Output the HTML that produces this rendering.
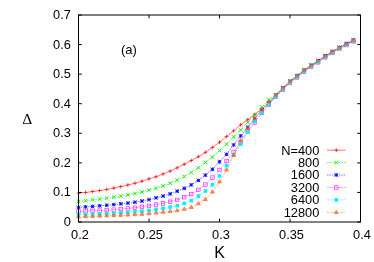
<!DOCTYPE html>
<html><head><meta charset="utf-8"><title>chart</title>
<style>
html,body{margin:0;padding:0;background:#fff;}
body{width:374px;height:262px;position:relative;overflow:hidden;font-family:"Liberation Sans",sans-serif;color:#000;}
svg{display:block;position:absolute;left:0;top:0;will-change:transform;}
</style></head><body>
<svg width="374" height="262" viewBox="0 0 374 262">
<rect x="0" y="0" width="374" height="262" fill="#fff"/>
<polyline points="78.50,193.10 85.55,192.45 92.60,191.56 99.65,190.59 106.70,189.41 113.75,188.14 120.80,186.63 127.85,185.01 134.90,183.29 141.95,181.23 149.00,178.86 156.05,176.71 163.10,174.02 170.15,171.10 177.20,167.85 184.25,164.24 191.30,160.52 198.35,156.74 205.40,152.34 212.45,147.47 219.50,142.21 226.55,136.48 233.60,130.87 240.65,124.87 247.70,119.67 254.75,114.39 261.80,109.22 268.85,102.43 275.90,95.93 282.95,88.80 290.00,82.20 297.05,76.60 304.10,70.98 311.15,66.09 318.20,61.59 325.25,56.55 332.30,52.26 339.35,48.14 346.40,44.34 353.45,40.64" fill="none" stroke="#ff0000" stroke-width="0.55"/>
<path d="M76.60 193.10H80.40M78.50 191.20V195.00" stroke="#ff0000" stroke-width="0.7" fill="none"/>
<path d="M83.65 192.45H87.45M85.55 190.55V194.35" stroke="#ff0000" stroke-width="0.7" fill="none"/>
<path d="M90.70 191.56H94.50M92.60 189.66V193.46" stroke="#ff0000" stroke-width="0.7" fill="none"/>
<path d="M97.75 190.59H101.55M99.65 188.69V192.49" stroke="#ff0000" stroke-width="0.7" fill="none"/>
<path d="M104.80 189.41H108.60M106.70 187.51V191.31" stroke="#ff0000" stroke-width="0.7" fill="none"/>
<path d="M111.85 188.14H115.65M113.75 186.24V190.04" stroke="#ff0000" stroke-width="0.7" fill="none"/>
<path d="M118.90 186.63H122.70M120.80 184.73V188.53" stroke="#ff0000" stroke-width="0.7" fill="none"/>
<path d="M125.95 185.01H129.75M127.85 183.11V186.91" stroke="#ff0000" stroke-width="0.7" fill="none"/>
<path d="M133.00 183.29H136.80M134.90 181.39V185.19" stroke="#ff0000" stroke-width="0.7" fill="none"/>
<path d="M140.05 181.23H143.85M141.95 179.33V183.13" stroke="#ff0000" stroke-width="0.7" fill="none"/>
<path d="M147.10 178.86H150.90M149.00 176.96V180.76" stroke="#ff0000" stroke-width="0.7" fill="none"/>
<path d="M154.15 176.71H157.95M156.05 174.81V178.61" stroke="#ff0000" stroke-width="0.7" fill="none"/>
<path d="M161.20 174.02H165.00M163.10 172.12V175.92" stroke="#ff0000" stroke-width="0.7" fill="none"/>
<path d="M168.25 171.10H172.05M170.15 169.20V173.00" stroke="#ff0000" stroke-width="0.7" fill="none"/>
<path d="M175.30 167.85H179.10M177.20 165.95V169.75" stroke="#ff0000" stroke-width="0.7" fill="none"/>
<path d="M182.35 164.24H186.15M184.25 162.34V166.14" stroke="#ff0000" stroke-width="0.7" fill="none"/>
<path d="M189.40 160.52H193.20M191.30 158.62V162.42" stroke="#ff0000" stroke-width="0.7" fill="none"/>
<path d="M196.45 156.74H200.25M198.35 154.84V158.64" stroke="#ff0000" stroke-width="0.7" fill="none"/>
<path d="M203.50 152.34H207.30M205.40 150.44V154.24" stroke="#ff0000" stroke-width="0.7" fill="none"/>
<path d="M210.55 147.47H214.35M212.45 145.57V149.37" stroke="#ff0000" stroke-width="0.7" fill="none"/>
<path d="M217.60 142.21H221.40M219.50 140.31V144.11" stroke="#ff0000" stroke-width="0.7" fill="none"/>
<path d="M224.65 136.48H228.45M226.55 134.58V138.38" stroke="#ff0000" stroke-width="0.7" fill="none"/>
<path d="M231.70 130.87H235.50M233.60 128.97V132.77" stroke="#ff0000" stroke-width="0.7" fill="none"/>
<path d="M238.75 124.87H242.55M240.65 122.97V126.77" stroke="#ff0000" stroke-width="0.7" fill="none"/>
<path d="M245.80 119.67H249.60M247.70 117.77V121.57" stroke="#ff0000" stroke-width="0.7" fill="none"/>
<path d="M252.85 114.39H256.65M254.75 112.49V116.29" stroke="#ff0000" stroke-width="0.7" fill="none"/>
<path d="M259.90 109.22H263.70M261.80 107.32V111.12" stroke="#ff0000" stroke-width="0.7" fill="none"/>
<path d="M266.95 102.43H270.75M268.85 100.53V104.33" stroke="#ff0000" stroke-width="0.7" fill="none"/>
<path d="M274.00 95.93H277.80M275.90 94.03V97.83" stroke="#ff0000" stroke-width="0.7" fill="none"/>
<path d="M281.05 88.80H284.85M282.95 86.90V90.70" stroke="#ff0000" stroke-width="0.7" fill="none"/>
<path d="M288.10 82.20H291.90M290.00 80.30V84.10" stroke="#ff0000" stroke-width="0.7" fill="none"/>
<path d="M295.15 76.60H298.95M297.05 74.70V78.50" stroke="#ff0000" stroke-width="0.7" fill="none"/>
<path d="M302.20 70.98H306.00M304.10 69.08V72.88" stroke="#ff0000" stroke-width="0.7" fill="none"/>
<path d="M309.25 66.09H313.05M311.15 64.19V67.99" stroke="#ff0000" stroke-width="0.7" fill="none"/>
<path d="M316.30 61.59H320.10M318.20 59.69V63.49" stroke="#ff0000" stroke-width="0.7" fill="none"/>
<path d="M323.35 56.55H327.15M325.25 54.65V58.45" stroke="#ff0000" stroke-width="0.7" fill="none"/>
<path d="M330.40 52.26H334.20M332.30 50.36V54.16" stroke="#ff0000" stroke-width="0.7" fill="none"/>
<path d="M337.45 48.14H341.25M339.35 46.24V50.04" stroke="#ff0000" stroke-width="0.7" fill="none"/>
<path d="M344.50 44.34H348.30M346.40 42.44V46.24" stroke="#ff0000" stroke-width="0.7" fill="none"/>
<path d="M351.55 40.64H355.35M353.45 38.74V42.54" stroke="#ff0000" stroke-width="0.7" fill="none"/>
<polyline points="78.50,201.37 85.55,200.66 92.60,199.86 99.65,199.07 106.70,198.21 113.75,197.29 120.80,196.17 127.85,194.93 134.90,193.51 141.95,192.01 149.00,190.18 156.05,188.29 163.10,185.86 170.15,183.21 177.20,180.05 184.25,176.41 191.30,172.48 198.35,167.82 205.40,162.41 212.45,157.13 219.50,150.63 226.55,144.19 233.60,136.86 240.65,129.95 247.70,122.36 254.75,114.89 261.80,107.00 268.85,99.62 275.90,94.60 282.95,87.56 290.00,81.06 297.05,75.55 304.10,70.02 311.15,65.23 318.20,60.82 325.25,55.88 332.30,51.68 339.35,47.65 346.40,43.95 353.45,40.34" fill="none" stroke="#00f000" stroke-width="0.55" stroke-dasharray="1.9 0.9"/>
<path d="M76.70 199.57L80.30 203.17M76.70 203.17L80.30 199.57" stroke="#00f000" stroke-width="0.95" fill="none"/>
<path d="M83.75 198.86L87.35 202.46M83.75 202.46L87.35 198.86" stroke="#00f000" stroke-width="0.95" fill="none"/>
<path d="M90.80 198.06L94.40 201.66M90.80 201.66L94.40 198.06" stroke="#00f000" stroke-width="0.95" fill="none"/>
<path d="M97.85 197.27L101.45 200.87M97.85 200.87L101.45 197.27" stroke="#00f000" stroke-width="0.95" fill="none"/>
<path d="M104.90 196.41L108.50 200.01M104.90 200.01L108.50 196.41" stroke="#00f000" stroke-width="0.95" fill="none"/>
<path d="M111.95 195.49L115.55 199.09M111.95 199.09L115.55 195.49" stroke="#00f000" stroke-width="0.95" fill="none"/>
<path d="M119.00 194.37L122.60 197.97M119.00 197.97L122.60 194.37" stroke="#00f000" stroke-width="0.95" fill="none"/>
<path d="M126.05 193.13L129.65 196.73M126.05 196.73L129.65 193.13" stroke="#00f000" stroke-width="0.95" fill="none"/>
<path d="M133.10 191.71L136.70 195.31M133.10 195.31L136.70 191.71" stroke="#00f000" stroke-width="0.95" fill="none"/>
<path d="M140.15 190.21L143.75 193.81M140.15 193.81L143.75 190.21" stroke="#00f000" stroke-width="0.95" fill="none"/>
<path d="M147.20 188.38L150.80 191.98M147.20 191.98L150.80 188.38" stroke="#00f000" stroke-width="0.95" fill="none"/>
<path d="M154.25 186.49L157.85 190.09M154.25 190.09L157.85 186.49" stroke="#00f000" stroke-width="0.95" fill="none"/>
<path d="M161.30 184.06L164.90 187.66M161.30 187.66L164.90 184.06" stroke="#00f000" stroke-width="0.95" fill="none"/>
<path d="M168.35 181.41L171.95 185.01M168.35 185.01L171.95 181.41" stroke="#00f000" stroke-width="0.95" fill="none"/>
<path d="M175.40 178.25L179.00 181.85M175.40 181.85L179.00 178.25" stroke="#00f000" stroke-width="0.95" fill="none"/>
<path d="M182.45 174.61L186.05 178.21M182.45 178.21L186.05 174.61" stroke="#00f000" stroke-width="0.95" fill="none"/>
<path d="M189.50 170.68L193.10 174.28M189.50 174.28L193.10 170.68" stroke="#00f000" stroke-width="0.95" fill="none"/>
<path d="M196.55 166.02L200.15 169.62M196.55 169.62L200.15 166.02" stroke="#00f000" stroke-width="0.95" fill="none"/>
<path d="M203.60 160.61L207.20 164.21M203.60 164.21L207.20 160.61" stroke="#00f000" stroke-width="0.95" fill="none"/>
<path d="M210.65 155.33L214.25 158.93M210.65 158.93L214.25 155.33" stroke="#00f000" stroke-width="0.95" fill="none"/>
<path d="M217.70 148.83L221.30 152.43M217.70 152.43L221.30 148.83" stroke="#00f000" stroke-width="0.95" fill="none"/>
<path d="M224.75 142.39L228.35 145.99M224.75 145.99L228.35 142.39" stroke="#00f000" stroke-width="0.95" fill="none"/>
<path d="M231.80 135.06L235.40 138.66M231.80 138.66L235.40 135.06" stroke="#00f000" stroke-width="0.95" fill="none"/>
<path d="M238.85 128.15L242.45 131.75M238.85 131.75L242.45 128.15" stroke="#00f000" stroke-width="0.95" fill="none"/>
<path d="M245.90 120.56L249.50 124.16M245.90 124.16L249.50 120.56" stroke="#00f000" stroke-width="0.95" fill="none"/>
<path d="M252.95 113.09L256.55 116.69M252.95 116.69L256.55 113.09" stroke="#00f000" stroke-width="0.95" fill="none"/>
<path d="M260.00 105.20L263.60 108.80M260.00 108.80L263.60 105.20" stroke="#00f000" stroke-width="0.95" fill="none"/>
<path d="M267.05 97.82L270.65 101.42M267.05 101.42L270.65 97.82" stroke="#00f000" stroke-width="0.95" fill="none"/>
<path d="M274.10 92.80L277.70 96.40M274.10 96.40L277.70 92.80" stroke="#00f000" stroke-width="0.95" fill="none"/>
<path d="M281.15 85.76L284.75 89.36M281.15 89.36L284.75 85.76" stroke="#00f000" stroke-width="0.95" fill="none"/>
<path d="M288.20 79.26L291.80 82.86M288.20 82.86L291.80 79.26" stroke="#00f000" stroke-width="0.95" fill="none"/>
<path d="M295.25 73.75L298.85 77.35M295.25 77.35L298.85 73.75" stroke="#00f000" stroke-width="0.95" fill="none"/>
<path d="M302.30 68.22L305.90 71.82M302.30 71.82L305.90 68.22" stroke="#00f000" stroke-width="0.95" fill="none"/>
<path d="M309.35 63.43L312.95 67.03M309.35 67.03L312.95 63.43" stroke="#00f000" stroke-width="0.95" fill="none"/>
<path d="M316.40 59.02L320.00 62.62M316.40 62.62L320.00 59.02" stroke="#00f000" stroke-width="0.95" fill="none"/>
<path d="M323.45 54.08L327.05 57.68M323.45 57.68L327.05 54.08" stroke="#00f000" stroke-width="0.95" fill="none"/>
<path d="M330.50 49.88L334.10 53.48M330.50 53.48L334.10 49.88" stroke="#00f000" stroke-width="0.95" fill="none"/>
<path d="M337.55 45.85L341.15 49.45M337.55 49.45L341.15 45.85" stroke="#00f000" stroke-width="0.95" fill="none"/>
<path d="M344.60 42.15L348.20 45.75M344.60 45.75L348.20 42.15" stroke="#00f000" stroke-width="0.95" fill="none"/>
<path d="M351.65 38.54L355.25 42.14M351.65 42.14L355.25 38.54" stroke="#00f000" stroke-width="0.95" fill="none"/>
<polyline points="78.50,207.28 85.55,206.92 92.60,206.45 99.65,205.86 106.70,205.21 113.75,204.56 120.80,203.85 127.85,203.08 134.90,202.20 141.95,201.02 149.00,199.66 156.05,197.83 163.10,196.05 170.15,193.90 177.20,191.18 184.25,188.37 191.30,184.89 198.35,180.40 205.40,175.11 212.45,169.32 219.50,161.82 226.55,154.32 233.60,144.96 240.65,135.95 247.70,127.24 254.75,118.38 261.80,110.10 268.85,103.02 275.90,95.19 282.95,88.06 290.00,81.46 297.05,75.86 304.10,70.24 311.15,65.35 318.20,60.85 325.25,55.81 332.30,51.52 339.35,47.40 346.40,43.60 353.45,39.90" fill="none" stroke="#0000ff" stroke-width="0.55" stroke-dasharray="1.4 1.0"/>
<path d="M76.70 205.48L80.30 209.08M76.70 209.08L80.30 205.48M76.70 207.28H80.30M78.50 205.48V209.08" stroke="#0000ff" stroke-width="0.9" fill="none"/>
<path d="M83.75 205.12L87.35 208.72M83.75 208.72L87.35 205.12M83.75 206.92H87.35M85.55 205.12V208.72" stroke="#0000ff" stroke-width="0.9" fill="none"/>
<path d="M90.80 204.65L94.40 208.25M90.80 208.25L94.40 204.65M90.80 206.45H94.40M92.60 204.65V208.25" stroke="#0000ff" stroke-width="0.9" fill="none"/>
<path d="M97.85 204.06L101.45 207.66M97.85 207.66L101.45 204.06M97.85 205.86H101.45M99.65 204.06V207.66" stroke="#0000ff" stroke-width="0.9" fill="none"/>
<path d="M104.90 203.41L108.50 207.01M104.90 207.01L108.50 203.41M104.90 205.21H108.50M106.70 203.41V207.01" stroke="#0000ff" stroke-width="0.9" fill="none"/>
<path d="M111.95 202.76L115.55 206.36M111.95 206.36L115.55 202.76M111.95 204.56H115.55M113.75 202.76V206.36" stroke="#0000ff" stroke-width="0.9" fill="none"/>
<path d="M119.00 202.05L122.60 205.65M119.00 205.65L122.60 202.05M119.00 203.85H122.60M120.80 202.05V205.65" stroke="#0000ff" stroke-width="0.9" fill="none"/>
<path d="M126.05 201.28L129.65 204.88M126.05 204.88L129.65 201.28M126.05 203.08H129.65M127.85 201.28V204.88" stroke="#0000ff" stroke-width="0.9" fill="none"/>
<path d="M133.10 200.40L136.70 204.00M133.10 204.00L136.70 200.40M133.10 202.20H136.70M134.90 200.40V204.00" stroke="#0000ff" stroke-width="0.9" fill="none"/>
<path d="M140.15 199.22L143.75 202.82M140.15 202.82L143.75 199.22M140.15 201.02H143.75M141.95 199.22V202.82" stroke="#0000ff" stroke-width="0.9" fill="none"/>
<path d="M147.20 197.86L150.80 201.46M147.20 201.46L150.80 197.86M147.20 199.66H150.80M149.00 197.86V201.46" stroke="#0000ff" stroke-width="0.9" fill="none"/>
<path d="M154.25 196.03L157.85 199.63M154.25 199.63L157.85 196.03M154.25 197.83H157.85M156.05 196.03V199.63" stroke="#0000ff" stroke-width="0.9" fill="none"/>
<path d="M161.30 194.25L164.90 197.85M161.30 197.85L164.90 194.25M161.30 196.05H164.90M163.10 194.25V197.85" stroke="#0000ff" stroke-width="0.9" fill="none"/>
<path d="M168.35 192.10L171.95 195.70M168.35 195.70L171.95 192.10M168.35 193.90H171.95M170.15 192.10V195.70" stroke="#0000ff" stroke-width="0.9" fill="none"/>
<path d="M175.40 189.38L179.00 192.98M175.40 192.98L179.00 189.38M175.40 191.18H179.00M177.20 189.38V192.98" stroke="#0000ff" stroke-width="0.9" fill="none"/>
<path d="M182.45 186.57L186.05 190.17M182.45 190.17L186.05 186.57M182.45 188.37H186.05M184.25 186.57V190.17" stroke="#0000ff" stroke-width="0.9" fill="none"/>
<path d="M189.50 183.09L193.10 186.69M189.50 186.69L193.10 183.09M189.50 184.89H193.10M191.30 183.09V186.69" stroke="#0000ff" stroke-width="0.9" fill="none"/>
<path d="M196.55 178.60L200.15 182.20M196.55 182.20L200.15 178.60M196.55 180.40H200.15M198.35 178.60V182.20" stroke="#0000ff" stroke-width="0.9" fill="none"/>
<path d="M203.60 173.31L207.20 176.91M203.60 176.91L207.20 173.31M203.60 175.11H207.20M205.40 173.31V176.91" stroke="#0000ff" stroke-width="0.9" fill="none"/>
<path d="M210.65 167.52L214.25 171.12M210.65 171.12L214.25 167.52M210.65 169.32H214.25M212.45 167.52V171.12" stroke="#0000ff" stroke-width="0.9" fill="none"/>
<path d="M217.70 160.02L221.30 163.62M217.70 163.62L221.30 160.02M217.70 161.82H221.30M219.50 160.02V163.62" stroke="#0000ff" stroke-width="0.9" fill="none"/>
<path d="M224.75 152.52L228.35 156.12M224.75 156.12L228.35 152.52M224.75 154.32H228.35M226.55 152.52V156.12" stroke="#0000ff" stroke-width="0.9" fill="none"/>
<path d="M231.80 143.16L235.40 146.76M231.80 146.76L235.40 143.16M231.80 144.96H235.40M233.60 143.16V146.76" stroke="#0000ff" stroke-width="0.9" fill="none"/>
<path d="M238.85 134.15L242.45 137.75M238.85 137.75L242.45 134.15M238.85 135.95H242.45M240.65 134.15V137.75" stroke="#0000ff" stroke-width="0.9" fill="none"/>
<path d="M245.90 125.44L249.50 129.04M245.90 129.04L249.50 125.44M245.90 127.24H249.50M247.70 125.44V129.04" stroke="#0000ff" stroke-width="0.9" fill="none"/>
<path d="M252.95 116.58L256.55 120.17M252.95 120.17L256.55 116.58M252.95 118.38H256.55M254.75 116.58V120.17" stroke="#0000ff" stroke-width="0.9" fill="none"/>
<path d="M260.00 108.30L263.60 111.90M260.00 111.90L263.60 108.30M260.00 110.10H263.60M261.80 108.30V111.90" stroke="#0000ff" stroke-width="0.9" fill="none"/>
<path d="M267.05 101.22L270.65 104.82M267.05 104.82L270.65 101.22M267.05 103.02H270.65M268.85 101.22V104.82" stroke="#0000ff" stroke-width="0.9" fill="none"/>
<path d="M274.10 93.39L277.70 96.99M274.10 96.99L277.70 93.39M274.10 95.19H277.70M275.90 93.39V96.99" stroke="#0000ff" stroke-width="0.9" fill="none"/>
<path d="M281.15 86.26L284.75 89.86M281.15 89.86L284.75 86.26M281.15 88.06H284.75M282.95 86.26V89.86" stroke="#0000ff" stroke-width="0.9" fill="none"/>
<path d="M288.20 79.66L291.80 83.26M288.20 83.26L291.80 79.66M288.20 81.46H291.80M290.00 79.66V83.26" stroke="#0000ff" stroke-width="0.9" fill="none"/>
<path d="M295.25 74.06L298.85 77.66M295.25 77.66L298.85 74.06M295.25 75.86H298.85M297.05 74.06V77.66" stroke="#0000ff" stroke-width="0.9" fill="none"/>
<path d="M302.30 68.44L305.90 72.04M302.30 72.04L305.90 68.44M302.30 70.24H305.90M304.10 68.44V72.04" stroke="#0000ff" stroke-width="0.9" fill="none"/>
<path d="M309.35 63.55L312.95 67.15M309.35 67.15L312.95 63.55M309.35 65.35H312.95M311.15 63.55V67.15" stroke="#0000ff" stroke-width="0.9" fill="none"/>
<path d="M316.40 59.05L320.00 62.65M316.40 62.65L320.00 59.05M316.40 60.85H320.00M318.20 59.05V62.65" stroke="#0000ff" stroke-width="0.9" fill="none"/>
<path d="M323.45 54.01L327.05 57.61M323.45 57.61L327.05 54.01M323.45 55.81H327.05M325.25 54.01V57.61" stroke="#0000ff" stroke-width="0.9" fill="none"/>
<path d="M330.50 49.72L334.10 53.32M330.50 53.32L334.10 49.72M330.50 51.52H334.10M332.30 49.72V53.32" stroke="#0000ff" stroke-width="0.9" fill="none"/>
<path d="M337.55 45.60L341.15 49.20M337.55 49.20L341.15 45.60M337.55 47.40H341.15M339.35 45.60V49.20" stroke="#0000ff" stroke-width="0.9" fill="none"/>
<path d="M344.60 41.80L348.20 45.40M344.60 45.40L348.20 41.80M344.60 43.60H348.20M346.40 41.80V45.40" stroke="#0000ff" stroke-width="0.9" fill="none"/>
<path d="M351.65 38.10L355.25 41.70M351.65 41.70L355.25 38.10M351.65 39.90H355.25M353.45 38.10V41.70" stroke="#0000ff" stroke-width="0.9" fill="none"/>
<polyline points="78.50,211.50 85.55,211.21 92.60,210.91 99.65,210.59 106.70,210.20 113.75,209.67 120.80,209.08 127.85,208.46 134.90,207.72 141.95,206.83 149.00,205.80 156.05,204.62 163.10,203.44 170.15,201.75 177.20,199.89 184.25,197.24 191.30,194.13 198.35,189.88 205.40,184.59 212.45,177.59 219.50,169.91 226.55,160.94 233.60,151.93 240.65,142.45 247.70,131.25 254.75,122.48 261.80,113.09 268.85,104.73 275.90,96.81 282.95,89.67 290.00,83.06 297.05,77.45 304.10,71.81 311.15,66.91 318.20,62.39 325.25,57.34 332.30,53.03 339.35,48.90 346.40,45.09 353.45,41.38" fill="none" stroke="#ff00ff" stroke-width="0.55" stroke-dasharray="0.7 0.5"/>
<rect x="76.75" y="209.75" width="3.50" height="3.50" stroke="#ff00ff" stroke-width="0.6" fill="none"/><circle cx="78.50" cy="211.50" r="0.45" fill="#ff00ff"/>
<rect x="83.80" y="209.46" width="3.50" height="3.50" stroke="#ff00ff" stroke-width="0.6" fill="none"/><circle cx="85.55" cy="211.21" r="0.45" fill="#ff00ff"/>
<rect x="90.85" y="209.16" width="3.50" height="3.50" stroke="#ff00ff" stroke-width="0.6" fill="none"/><circle cx="92.60" cy="210.91" r="0.45" fill="#ff00ff"/>
<rect x="97.90" y="208.84" width="3.50" height="3.50" stroke="#ff00ff" stroke-width="0.6" fill="none"/><circle cx="99.65" cy="210.59" r="0.45" fill="#ff00ff"/>
<rect x="104.95" y="208.45" width="3.50" height="3.50" stroke="#ff00ff" stroke-width="0.6" fill="none"/><circle cx="106.70" cy="210.20" r="0.45" fill="#ff00ff"/>
<rect x="112.00" y="207.92" width="3.50" height="3.50" stroke="#ff00ff" stroke-width="0.6" fill="none"/><circle cx="113.75" cy="209.67" r="0.45" fill="#ff00ff"/>
<rect x="119.05" y="207.33" width="3.50" height="3.50" stroke="#ff00ff" stroke-width="0.6" fill="none"/><circle cx="120.80" cy="209.08" r="0.45" fill="#ff00ff"/>
<rect x="126.10" y="206.71" width="3.50" height="3.50" stroke="#ff00ff" stroke-width="0.6" fill="none"/><circle cx="127.85" cy="208.46" r="0.45" fill="#ff00ff"/>
<rect x="133.15" y="205.97" width="3.50" height="3.50" stroke="#ff00ff" stroke-width="0.6" fill="none"/><circle cx="134.90" cy="207.72" r="0.45" fill="#ff00ff"/>
<rect x="140.20" y="205.08" width="3.50" height="3.50" stroke="#ff00ff" stroke-width="0.6" fill="none"/><circle cx="141.95" cy="206.83" r="0.45" fill="#ff00ff"/>
<rect x="147.25" y="204.05" width="3.50" height="3.50" stroke="#ff00ff" stroke-width="0.6" fill="none"/><circle cx="149.00" cy="205.80" r="0.45" fill="#ff00ff"/>
<rect x="154.30" y="202.87" width="3.50" height="3.50" stroke="#ff00ff" stroke-width="0.6" fill="none"/><circle cx="156.05" cy="204.62" r="0.45" fill="#ff00ff"/>
<rect x="161.35" y="201.69" width="3.50" height="3.50" stroke="#ff00ff" stroke-width="0.6" fill="none"/><circle cx="163.10" cy="203.44" r="0.45" fill="#ff00ff"/>
<rect x="168.40" y="200.00" width="3.50" height="3.50" stroke="#ff00ff" stroke-width="0.6" fill="none"/><circle cx="170.15" cy="201.75" r="0.45" fill="#ff00ff"/>
<rect x="175.45" y="198.14" width="3.50" height="3.50" stroke="#ff00ff" stroke-width="0.6" fill="none"/><circle cx="177.20" cy="199.89" r="0.45" fill="#ff00ff"/>
<rect x="182.50" y="195.49" width="3.50" height="3.50" stroke="#ff00ff" stroke-width="0.6" fill="none"/><circle cx="184.25" cy="197.24" r="0.45" fill="#ff00ff"/>
<rect x="189.55" y="192.38" width="3.50" height="3.50" stroke="#ff00ff" stroke-width="0.6" fill="none"/><circle cx="191.30" cy="194.13" r="0.45" fill="#ff00ff"/>
<rect x="196.60" y="188.13" width="3.50" height="3.50" stroke="#ff00ff" stroke-width="0.6" fill="none"/><circle cx="198.35" cy="189.88" r="0.45" fill="#ff00ff"/>
<rect x="203.65" y="182.84" width="3.50" height="3.50" stroke="#ff00ff" stroke-width="0.6" fill="none"/><circle cx="205.40" cy="184.59" r="0.45" fill="#ff00ff"/>
<rect x="210.70" y="175.84" width="3.50" height="3.50" stroke="#ff00ff" stroke-width="0.6" fill="none"/><circle cx="212.45" cy="177.59" r="0.45" fill="#ff00ff"/>
<rect x="217.75" y="168.16" width="3.50" height="3.50" stroke="#ff00ff" stroke-width="0.6" fill="none"/><circle cx="219.50" cy="169.91" r="0.45" fill="#ff00ff"/>
<rect x="224.80" y="159.19" width="3.50" height="3.50" stroke="#ff00ff" stroke-width="0.6" fill="none"/><circle cx="226.55" cy="160.94" r="0.45" fill="#ff00ff"/>
<rect x="231.85" y="150.18" width="3.50" height="3.50" stroke="#ff00ff" stroke-width="0.6" fill="none"/><circle cx="233.60" cy="151.93" r="0.45" fill="#ff00ff"/>
<rect x="238.90" y="140.70" width="3.50" height="3.50" stroke="#ff00ff" stroke-width="0.6" fill="none"/><circle cx="240.65" cy="142.45" r="0.45" fill="#ff00ff"/>
<rect x="245.95" y="129.50" width="3.50" height="3.50" stroke="#ff00ff" stroke-width="0.6" fill="none"/><circle cx="247.70" cy="131.25" r="0.45" fill="#ff00ff"/>
<rect x="253.00" y="120.73" width="3.50" height="3.50" stroke="#ff00ff" stroke-width="0.6" fill="none"/><circle cx="254.75" cy="122.48" r="0.45" fill="#ff00ff"/>
<rect x="260.05" y="111.34" width="3.50" height="3.50" stroke="#ff00ff" stroke-width="0.6" fill="none"/><circle cx="261.80" cy="113.09" r="0.45" fill="#ff00ff"/>
<rect x="267.10" y="102.98" width="3.50" height="3.50" stroke="#ff00ff" stroke-width="0.6" fill="none"/><circle cx="268.85" cy="104.73" r="0.45" fill="#ff00ff"/>
<rect x="274.15" y="95.06" width="3.50" height="3.50" stroke="#ff00ff" stroke-width="0.6" fill="none"/><circle cx="275.90" cy="96.81" r="0.45" fill="#ff00ff"/>
<rect x="281.20" y="87.92" width="3.50" height="3.50" stroke="#ff00ff" stroke-width="0.6" fill="none"/><circle cx="282.95" cy="89.67" r="0.45" fill="#ff00ff"/>
<rect x="288.25" y="81.31" width="3.50" height="3.50" stroke="#ff00ff" stroke-width="0.6" fill="none"/><circle cx="290.00" cy="83.06" r="0.45" fill="#ff00ff"/>
<rect x="295.30" y="75.70" width="3.50" height="3.50" stroke="#ff00ff" stroke-width="0.6" fill="none"/><circle cx="297.05" cy="77.45" r="0.45" fill="#ff00ff"/>
<rect x="302.35" y="70.06" width="3.50" height="3.50" stroke="#ff00ff" stroke-width="0.6" fill="none"/><circle cx="304.10" cy="71.81" r="0.45" fill="#ff00ff"/>
<rect x="309.40" y="65.16" width="3.50" height="3.50" stroke="#ff00ff" stroke-width="0.6" fill="none"/><circle cx="311.15" cy="66.91" r="0.45" fill="#ff00ff"/>
<rect x="316.45" y="60.64" width="3.50" height="3.50" stroke="#ff00ff" stroke-width="0.6" fill="none"/><circle cx="318.20" cy="62.39" r="0.45" fill="#ff00ff"/>
<rect x="323.50" y="55.59" width="3.50" height="3.50" stroke="#ff00ff" stroke-width="0.6" fill="none"/><circle cx="325.25" cy="57.34" r="0.45" fill="#ff00ff"/>
<rect x="330.55" y="51.28" width="3.50" height="3.50" stroke="#ff00ff" stroke-width="0.6" fill="none"/><circle cx="332.30" cy="53.03" r="0.45" fill="#ff00ff"/>
<rect x="337.60" y="47.15" width="3.50" height="3.50" stroke="#ff00ff" stroke-width="0.6" fill="none"/><circle cx="339.35" cy="48.90" r="0.45" fill="#ff00ff"/>
<rect x="344.65" y="43.34" width="3.50" height="3.50" stroke="#ff00ff" stroke-width="0.6" fill="none"/><circle cx="346.40" cy="45.09" r="0.45" fill="#ff00ff"/>
<rect x="351.70" y="39.63" width="3.50" height="3.50" stroke="#ff00ff" stroke-width="0.6" fill="none"/><circle cx="353.45" cy="41.38" r="0.45" fill="#ff00ff"/>
<polyline points="78.50,214.54 85.55,214.31 92.60,214.10 99.65,213.86 106.70,213.57 113.75,213.20 120.80,212.77 127.85,212.27 134.90,211.76 141.95,211.18 149.00,210.38 156.05,209.34 163.10,208.31 170.15,207.07 177.20,205.65 184.25,203.44 191.30,200.60 198.35,196.05 205.40,190.97 212.45,184.80 219.50,175.97 226.55,165.63 233.60,154.94 240.65,144.34 247.70,132.17 254.75,121.48 261.80,112.47 268.85,104.32 275.90,96.52 282.95,89.39 290.00,82.79 297.05,77.19 304.10,71.57 311.15,66.68 318.20,62.18 325.25,57.14 332.30,52.85 339.35,48.73 346.40,44.93 353.45,41.23" fill="none" stroke="#00f4f4" stroke-width="0.55" stroke-dasharray="2.2 0.8 0.5 0.8"/>
<rect x="76.70" y="212.74" width="3.60" height="3.60" fill="#00f4f4"/>
<rect x="83.75" y="212.51" width="3.60" height="3.60" fill="#00f4f4"/>
<rect x="90.80" y="212.30" width="3.60" height="3.60" fill="#00f4f4"/>
<rect x="97.85" y="212.06" width="3.60" height="3.60" fill="#00f4f4"/>
<rect x="104.90" y="211.77" width="3.60" height="3.60" fill="#00f4f4"/>
<rect x="111.95" y="211.40" width="3.60" height="3.60" fill="#00f4f4"/>
<rect x="119.00" y="210.97" width="3.60" height="3.60" fill="#00f4f4"/>
<rect x="126.05" y="210.47" width="3.60" height="3.60" fill="#00f4f4"/>
<rect x="133.10" y="209.96" width="3.60" height="3.60" fill="#00f4f4"/>
<rect x="140.15" y="209.38" width="3.60" height="3.60" fill="#00f4f4"/>
<rect x="147.20" y="208.58" width="3.60" height="3.60" fill="#00f4f4"/>
<rect x="154.25" y="207.54" width="3.60" height="3.60" fill="#00f4f4"/>
<rect x="161.30" y="206.51" width="3.60" height="3.60" fill="#00f4f4"/>
<rect x="168.35" y="205.27" width="3.60" height="3.60" fill="#00f4f4"/>
<rect x="175.40" y="203.85" width="3.60" height="3.60" fill="#00f4f4"/>
<rect x="182.45" y="201.64" width="3.60" height="3.60" fill="#00f4f4"/>
<rect x="189.50" y="198.80" width="3.60" height="3.60" fill="#00f4f4"/>
<rect x="196.55" y="194.25" width="3.60" height="3.60" fill="#00f4f4"/>
<rect x="203.60" y="189.17" width="3.60" height="3.60" fill="#00f4f4"/>
<rect x="210.65" y="183.00" width="3.60" height="3.60" fill="#00f4f4"/>
<rect x="217.70" y="174.17" width="3.60" height="3.60" fill="#00f4f4"/>
<rect x="224.75" y="163.83" width="3.60" height="3.60" fill="#00f4f4"/>
<rect x="231.80" y="153.14" width="3.60" height="3.60" fill="#00f4f4"/>
<rect x="238.85" y="142.54" width="3.60" height="3.60" fill="#00f4f4"/>
<rect x="245.90" y="130.37" width="3.60" height="3.60" fill="#00f4f4"/>
<rect x="252.95" y="119.68" width="3.60" height="3.60" fill="#00f4f4"/>
<rect x="260.00" y="110.67" width="3.60" height="3.60" fill="#00f4f4"/>
<rect x="267.05" y="102.52" width="3.60" height="3.60" fill="#00f4f4"/>
<rect x="274.10" y="94.72" width="3.60" height="3.60" fill="#00f4f4"/>
<rect x="281.15" y="87.59" width="3.60" height="3.60" fill="#00f4f4"/>
<rect x="288.20" y="80.99" width="3.60" height="3.60" fill="#00f4f4"/>
<rect x="295.25" y="75.39" width="3.60" height="3.60" fill="#00f4f4"/>
<rect x="302.30" y="69.77" width="3.60" height="3.60" fill="#00f4f4"/>
<rect x="309.35" y="64.88" width="3.60" height="3.60" fill="#00f4f4"/>
<rect x="316.40" y="60.38" width="3.60" height="3.60" fill="#00f4f4"/>
<rect x="323.45" y="55.34" width="3.60" height="3.60" fill="#00f4f4"/>
<rect x="330.50" y="51.05" width="3.60" height="3.60" fill="#00f4f4"/>
<rect x="337.55" y="46.93" width="3.60" height="3.60" fill="#00f4f4"/>
<rect x="344.60" y="43.13" width="3.60" height="3.60" fill="#00f4f4"/>
<rect x="351.65" y="39.43" width="3.60" height="3.60" fill="#00f4f4"/>
<polyline points="78.50,216.73 85.55,216.49 92.60,216.26 99.65,216.02 106.70,215.78 113.75,215.49 120.80,215.19 127.85,214.90 134.90,214.57 141.95,214.22 149.00,213.66 156.05,212.89 163.10,212.06 170.15,211.35 177.20,210.59 184.25,209.17 191.30,207.28 198.35,203.67 205.40,199.39 212.45,191.95 219.50,181.79 226.55,169.91 233.60,155.32 240.65,140.56 247.70,128.27 254.75,118.67 261.80,109.81 268.85,101.60 275.90,95.04 282.95,87.95 290.00,81.39 297.05,75.84 304.10,70.25 311.15,65.40 318.20,60.94 325.25,55.95 332.30,51.69 339.35,47.61 346.40,43.86 353.45,40.19" fill="none" stroke="#ff5a1e" stroke-width="0.55" stroke-dasharray="1.6 0.7 0.4 0.7 0.4 0.7"/>
<path d="M78.50 214.63L80.39 217.88H76.61Z" fill="#ff5a1e" fill-opacity="0.45" stroke="#ff5a1e" stroke-width="0.75"/><circle cx="78.50" cy="216.73" r="0.45" fill="#ff5a1e"/>
<path d="M85.55 214.39L87.44 217.65H83.66Z" fill="#ff5a1e" fill-opacity="0.45" stroke="#ff5a1e" stroke-width="0.75"/><circle cx="85.55" cy="216.49" r="0.45" fill="#ff5a1e"/>
<path d="M92.60 214.16L94.49 217.41H90.71Z" fill="#ff5a1e" fill-opacity="0.45" stroke="#ff5a1e" stroke-width="0.75"/><circle cx="92.60" cy="216.26" r="0.45" fill="#ff5a1e"/>
<path d="M99.65 213.92L101.54 217.18H97.76Z" fill="#ff5a1e" fill-opacity="0.45" stroke="#ff5a1e" stroke-width="0.75"/><circle cx="99.65" cy="216.02" r="0.45" fill="#ff5a1e"/>
<path d="M106.70 213.68L108.59 216.94H104.81Z" fill="#ff5a1e" fill-opacity="0.45" stroke="#ff5a1e" stroke-width="0.75"/><circle cx="106.70" cy="215.78" r="0.45" fill="#ff5a1e"/>
<path d="M113.75 213.39L115.64 216.64H111.86Z" fill="#ff5a1e" fill-opacity="0.45" stroke="#ff5a1e" stroke-width="0.75"/><circle cx="113.75" cy="215.49" r="0.45" fill="#ff5a1e"/>
<path d="M120.80 213.09L122.69 216.35H118.91Z" fill="#ff5a1e" fill-opacity="0.45" stroke="#ff5a1e" stroke-width="0.75"/><circle cx="120.80" cy="215.19" r="0.45" fill="#ff5a1e"/>
<path d="M127.85 212.80L129.74 216.05H125.96Z" fill="#ff5a1e" fill-opacity="0.45" stroke="#ff5a1e" stroke-width="0.75"/><circle cx="127.85" cy="214.90" r="0.45" fill="#ff5a1e"/>
<path d="M134.90 212.47L136.79 215.73H133.01Z" fill="#ff5a1e" fill-opacity="0.45" stroke="#ff5a1e" stroke-width="0.75"/><circle cx="134.90" cy="214.57" r="0.45" fill="#ff5a1e"/>
<path d="M141.95 212.12L143.84 215.37H140.06Z" fill="#ff5a1e" fill-opacity="0.45" stroke="#ff5a1e" stroke-width="0.75"/><circle cx="141.95" cy="214.22" r="0.45" fill="#ff5a1e"/>
<path d="M149.00 211.56L150.89 214.81H147.11Z" fill="#ff5a1e" fill-opacity="0.45" stroke="#ff5a1e" stroke-width="0.75"/><circle cx="149.00" cy="213.66" r="0.45" fill="#ff5a1e"/>
<path d="M156.05 210.79L157.94 214.04H154.16Z" fill="#ff5a1e" fill-opacity="0.45" stroke="#ff5a1e" stroke-width="0.75"/><circle cx="156.05" cy="212.89" r="0.45" fill="#ff5a1e"/>
<path d="M163.10 209.96L164.99 213.22H161.21Z" fill="#ff5a1e" fill-opacity="0.45" stroke="#ff5a1e" stroke-width="0.75"/><circle cx="163.10" cy="212.06" r="0.45" fill="#ff5a1e"/>
<path d="M170.15 209.25L172.04 212.51H168.26Z" fill="#ff5a1e" fill-opacity="0.45" stroke="#ff5a1e" stroke-width="0.75"/><circle cx="170.15" cy="211.35" r="0.45" fill="#ff5a1e"/>
<path d="M177.20 208.49L179.09 211.74H175.31Z" fill="#ff5a1e" fill-opacity="0.45" stroke="#ff5a1e" stroke-width="0.75"/><circle cx="177.20" cy="210.59" r="0.45" fill="#ff5a1e"/>
<path d="M184.25 207.07L186.14 210.32H182.36Z" fill="#ff5a1e" fill-opacity="0.45" stroke="#ff5a1e" stroke-width="0.75"/><circle cx="184.25" cy="209.17" r="0.45" fill="#ff5a1e"/>
<path d="M191.30 205.18L193.19 208.43H189.41Z" fill="#ff5a1e" fill-opacity="0.45" stroke="#ff5a1e" stroke-width="0.75"/><circle cx="191.30" cy="207.28" r="0.45" fill="#ff5a1e"/>
<path d="M198.35 201.57L200.24 204.83H196.46Z" fill="#ff5a1e" fill-opacity="0.45" stroke="#ff5a1e" stroke-width="0.75"/><circle cx="198.35" cy="203.67" r="0.45" fill="#ff5a1e"/>
<path d="M205.40 197.29L207.29 200.55H203.51Z" fill="#ff5a1e" fill-opacity="0.45" stroke="#ff5a1e" stroke-width="0.75"/><circle cx="205.40" cy="199.39" r="0.45" fill="#ff5a1e"/>
<path d="M212.45 189.85L214.34 193.10H210.56Z" fill="#ff5a1e" fill-opacity="0.45" stroke="#ff5a1e" stroke-width="0.75"/><circle cx="212.45" cy="191.95" r="0.45" fill="#ff5a1e"/>
<path d="M219.50 179.69L221.39 182.94H217.61Z" fill="#ff5a1e" fill-opacity="0.45" stroke="#ff5a1e" stroke-width="0.75"/><circle cx="219.50" cy="181.79" r="0.45" fill="#ff5a1e"/>
<path d="M226.55 167.81L228.44 171.07H224.66Z" fill="#ff5a1e" fill-opacity="0.45" stroke="#ff5a1e" stroke-width="0.75"/><circle cx="226.55" cy="169.91" r="0.45" fill="#ff5a1e"/>
<path d="M233.60 153.22L235.49 156.48H231.71Z" fill="#ff5a1e" fill-opacity="0.45" stroke="#ff5a1e" stroke-width="0.75"/><circle cx="233.60" cy="155.32" r="0.45" fill="#ff5a1e"/>
<path d="M240.65 138.46L242.54 141.71H238.76Z" fill="#ff5a1e" fill-opacity="0.45" stroke="#ff5a1e" stroke-width="0.75"/><circle cx="240.65" cy="140.56" r="0.45" fill="#ff5a1e"/>
<path d="M247.70 126.17L249.59 129.42H245.81Z" fill="#ff5a1e" fill-opacity="0.45" stroke="#ff5a1e" stroke-width="0.75"/><circle cx="247.70" cy="128.27" r="0.45" fill="#ff5a1e"/>
<path d="M254.75 116.57L256.64 119.83H252.86Z" fill="#ff5a1e" fill-opacity="0.45" stroke="#ff5a1e" stroke-width="0.75"/><circle cx="254.75" cy="118.67" r="0.45" fill="#ff5a1e"/>
<path d="M261.80 107.71L263.69 110.96H259.91Z" fill="#ff5a1e" fill-opacity="0.45" stroke="#ff5a1e" stroke-width="0.75"/><circle cx="261.80" cy="109.81" r="0.45" fill="#ff5a1e"/>
<path d="M268.85 99.50L270.74 102.75H266.96Z" fill="#ff5a1e" fill-opacity="0.45" stroke="#ff5a1e" stroke-width="0.75"/><circle cx="268.85" cy="101.60" r="0.45" fill="#ff5a1e"/>
<path d="M275.90 92.94L277.79 96.20H274.01Z" fill="#ff5a1e" fill-opacity="0.45" stroke="#ff5a1e" stroke-width="0.75"/><circle cx="275.90" cy="95.04" r="0.45" fill="#ff5a1e"/>
<path d="M282.95 85.85L284.84 89.11H281.06Z" fill="#ff5a1e" fill-opacity="0.45" stroke="#ff5a1e" stroke-width="0.75"/><circle cx="282.95" cy="87.95" r="0.45" fill="#ff5a1e"/>
<path d="M290.00 79.29L291.89 82.55H288.11Z" fill="#ff5a1e" fill-opacity="0.45" stroke="#ff5a1e" stroke-width="0.75"/><circle cx="290.00" cy="81.39" r="0.45" fill="#ff5a1e"/>
<path d="M297.05 73.74L298.94 76.99H295.16Z" fill="#ff5a1e" fill-opacity="0.45" stroke="#ff5a1e" stroke-width="0.75"/><circle cx="297.05" cy="75.84" r="0.45" fill="#ff5a1e"/>
<path d="M304.10 68.15L305.99 71.41H302.21Z" fill="#ff5a1e" fill-opacity="0.45" stroke="#ff5a1e" stroke-width="0.75"/><circle cx="304.10" cy="70.25" r="0.45" fill="#ff5a1e"/>
<path d="M311.15 63.30L313.04 66.56H309.26Z" fill="#ff5a1e" fill-opacity="0.45" stroke="#ff5a1e" stroke-width="0.75"/><circle cx="311.15" cy="65.40" r="0.45" fill="#ff5a1e"/>
<path d="M318.20 58.84L320.09 62.10H316.31Z" fill="#ff5a1e" fill-opacity="0.45" stroke="#ff5a1e" stroke-width="0.75"/><circle cx="318.20" cy="60.94" r="0.45" fill="#ff5a1e"/>
<path d="M325.25 53.85L327.14 57.10H323.36Z" fill="#ff5a1e" fill-opacity="0.45" stroke="#ff5a1e" stroke-width="0.75"/><circle cx="325.25" cy="55.95" r="0.45" fill="#ff5a1e"/>
<path d="M332.30 49.59L334.19 52.85H330.41Z" fill="#ff5a1e" fill-opacity="0.45" stroke="#ff5a1e" stroke-width="0.75"/><circle cx="332.30" cy="51.69" r="0.45" fill="#ff5a1e"/>
<path d="M339.35 45.51L341.24 48.77H337.46Z" fill="#ff5a1e" fill-opacity="0.45" stroke="#ff5a1e" stroke-width="0.75"/><circle cx="339.35" cy="47.61" r="0.45" fill="#ff5a1e"/>
<path d="M346.40 41.76L348.29 45.01H344.51Z" fill="#ff5a1e" fill-opacity="0.45" stroke="#ff5a1e" stroke-width="0.75"/><circle cx="346.40" cy="43.86" r="0.45" fill="#ff5a1e"/>
<path d="M353.45 38.09L355.34 41.35H351.56Z" fill="#ff5a1e" fill-opacity="0.45" stroke="#ff5a1e" stroke-width="0.75"/><circle cx="353.45" cy="40.19" r="0.45" fill="#ff5a1e"/>
<path d="M327 150.2H345.6" fill="none" stroke="#ff0000" stroke-width="0.55"/>
<path d="M334.40 150.20H338.20M336.30 148.30V152.10" stroke="#ff0000" stroke-width="0.7" fill="none"/>
<path d="M327 162.6H345.6" fill="none" stroke="#00f000" stroke-width="0.55" stroke-dasharray="1.9 0.9"/>
<path d="M334.50 160.80L338.10 164.40M334.50 164.40L338.10 160.80" stroke="#00f000" stroke-width="0.95" fill="none"/>
<path d="M327 175.0H345.6" fill="none" stroke="#0000ff" stroke-width="0.55" stroke-dasharray="1.4 1.0"/>
<path d="M334.50 173.20L338.10 176.80M334.50 176.80L338.10 173.20M334.50 175.00H338.10M336.30 173.20V176.80" stroke="#0000ff" stroke-width="0.9" fill="none"/>
<path d="M327 187.5H345.6" fill="none" stroke="#ff00ff" stroke-width="0.55" stroke-dasharray="0.7 0.5"/>
<rect x="334.55" y="185.75" width="3.50" height="3.50" stroke="#ff00ff" stroke-width="0.6" fill="none"/><circle cx="336.30" cy="187.50" r="0.45" fill="#ff00ff"/>
<path d="M327 199.9H345.6" fill="none" stroke="#00f4f4" stroke-width="0.55" stroke-dasharray="2.2 0.8 0.5 0.8"/>
<rect x="334.50" y="198.10" width="3.60" height="3.60" fill="#00f4f4"/>
<path d="M327 212.4H345.6" fill="none" stroke="#ff5a1e" stroke-width="0.55" stroke-dasharray="1.6 0.7 0.4 0.7 0.4 0.7"/>
<path d="M336.30 210.30L338.19 213.56H334.41Z" fill="#ff5a1e" fill-opacity="0.45" stroke="#ff5a1e" stroke-width="0.75"/><circle cx="336.30" cy="212.40" r="0.45" fill="#ff5a1e"/>
<rect x="78.5" y="15.0" width="282.0" height="207.0" fill="none" stroke="#000" stroke-width="1"/>
<path d="M78.5 222.00h3.3M360.5 222.00h-3.3M78.5 192.43h3.3M360.5 192.43h-3.3M78.5 162.86h3.3M360.5 162.86h-3.3M78.5 133.29h3.3M360.5 133.29h-3.3M78.5 103.71h3.3M360.5 103.71h-3.3M78.5 74.14h3.3M360.5 74.14h-3.3M78.5 44.57h3.3M360.5 44.57h-3.3M78.5 15.00h3.3M360.5 15.00h-3.3M78.50 222.0v-3.3M78.50 15.0v3.3M149.00 222.0v-3.3M149.00 15.0v3.3M219.50 222.0v-3.3M219.50 15.0v3.3M290.00 222.0v-3.3M290.00 15.0v3.3M360.50 222.0v-3.3M360.50 15.0v3.3" stroke="#000" stroke-width="1" fill="none"/>
<text x="70.90" y="226.03" text-anchor="end" font-size="12.8" font-family="'Liberation Sans', sans-serif" fill="#000">0</text>
<text x="70.90" y="196.46" text-anchor="end" font-size="12.8" font-family="'Liberation Sans', sans-serif" fill="#000">0.1</text>
<text x="70.90" y="166.89" text-anchor="end" font-size="12.8" font-family="'Liberation Sans', sans-serif" fill="#000">0.2</text>
<text x="70.90" y="137.32" text-anchor="end" font-size="12.8" font-family="'Liberation Sans', sans-serif" fill="#000">0.3</text>
<text x="70.90" y="107.75" text-anchor="end" font-size="12.8" font-family="'Liberation Sans', sans-serif" fill="#000">0.4</text>
<text x="70.90" y="78.18" text-anchor="end" font-size="12.8" font-family="'Liberation Sans', sans-serif" fill="#000">0.5</text>
<text x="70.90" y="48.60" text-anchor="end" font-size="12.8" font-family="'Liberation Sans', sans-serif" fill="#000">0.6</text>
<text x="70.90" y="19.03" text-anchor="end" font-size="12.8" font-family="'Liberation Sans', sans-serif" fill="#000">0.7</text>
<text x="80.00" y="239.38" text-anchor="middle" font-size="12.8" font-family="'Liberation Sans', sans-serif" fill="#000">0.2</text>
<text x="150.50" y="239.38" text-anchor="middle" font-size="12.8" font-family="'Liberation Sans', sans-serif" fill="#000">0.25</text>
<text x="221.00" y="239.38" text-anchor="middle" font-size="12.8" font-family="'Liberation Sans', sans-serif" fill="#000">0.3</text>
<text x="291.50" y="239.38" text-anchor="middle" font-size="12.8" font-family="'Liberation Sans', sans-serif" fill="#000">0.35</text>
<text x="362.00" y="239.38" text-anchor="middle" font-size="12.8" font-family="'Liberation Sans', sans-serif" fill="#000">0.4</text>
<text x="219.60" y="257.73" text-anchor="middle" font-size="16" font-family="'Liberation Sans', sans-serif" fill="#000">K</text>
<text x="27.30" y="123.85" text-anchor="middle" font-size="15.5" font-family="'Liberation Serif', serif" fill="#000">&#916;</text>
<text x="128.90" y="54.35" text-anchor="middle" font-size="13" font-family="'Liberation Sans', sans-serif" fill="#000">(a)</text>
<text x="319.30" y="154.63" text-anchor="end" font-size="12.8" font-family="'Liberation Sans', sans-serif" fill="#000">N=400</text>
<text x="319.30" y="167.03" text-anchor="end" font-size="12.8" font-family="'Liberation Sans', sans-serif" fill="#000">800</text>
<text x="319.30" y="179.43" text-anchor="end" font-size="12.8" font-family="'Liberation Sans', sans-serif" fill="#000">1600</text>
<text x="319.30" y="191.93" text-anchor="end" font-size="12.8" font-family="'Liberation Sans', sans-serif" fill="#000">3200</text>
<text x="319.30" y="204.33" text-anchor="end" font-size="12.8" font-family="'Liberation Sans', sans-serif" fill="#000">6400</text>
<text x="319.30" y="216.83" text-anchor="end" font-size="12.8" font-family="'Liberation Sans', sans-serif" fill="#000">12800</text>
</svg>
</body></html>
